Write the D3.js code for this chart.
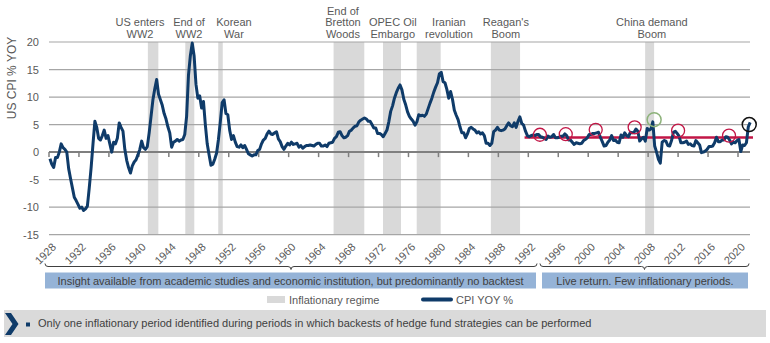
<!DOCTYPE html>
<html lang="en">
<head>
  <meta charset="utf-8">
  <script src="https://d3js.org/d3.v7.min.js"></script>
  <style>
    body, html {
      margin: 0;
      padding: 0;
      background: #fff;
    }
    svg text {
      font-family: "Liberation Sans", Arial, sans-serif;
    }
  </style>
</head>
<body>
<svg id="chart" width="770" height="343"></svg>

<script>
  // US CPI, year on year %, one value per quarter starting 1928 Q1
  var cpiStartYear = 1928;
  var cpiQuarterly = [
    -1.2, -2.2, -2.8, -1.0,   // 1928
    -1.0, 0.0, 1.5, 0.8,      // 1929
    0.5, 0.0, -3.0, -4.8,     // 1930
    -6.5, -8.2, -8.8, -9.5,   // 1931
    -10.2, -10.0, -10.6, -10.3, // 1932
    -9.8, -6.5, -2.8, 1.5,    // 1933
    5.6, 4.5, 2.5, 2.2,       // 1934
    3.0, 4.0, 2.5, 3.0,       // 1935
    1.5, 0.0, 1.8, 1.5,       // 1936
    2.5, 5.3, 4.5, 3.8,       // 1937
    0.5, -1.5, -2.8, -3.8,    // 1938
    -2.5, -1.8, -1.4, -0.5,   // 1939
    0.5, 2.0, 0.8, 0.5,       // 1940
    1.0, 3.5, 6.5, 9.5,       // 1941
    11.5, 13.2, 10.5, 9.5,    // 1942
    8.5, 7.0, 6.0, 4.6,       // 1943
    3.5, 0.9, 1.8, 2.0,       // 1944
    2.3, 2.0, 2.2, 2.3,       // 1945
    3.2, 6.5, 14.0, 17.5,     // 1946
    19.8, 17.5, 12.3, 9.8,    // 1947
    10.2, 8.0, 9.2, 5.0,      // 1948
    1.5, -0.5, -2.4, -2.2,    // 1949
    -1.3, -0.2, 2.3, 5.5,     // 1950
    9.0, 9.5, 7.0, 6.8,       // 1951
    4.0, 2.3, 3.0, 1.8,       // 1952
    1.0, 0.9, 1.3, 0.8,       // 1953
    1.2, 0.5, -0.3, -0.5,     // 1954
    -0.7, -0.5, -0.5, 0.3,    // 1955
    0.5, 1.5, 2.2, 2.5,       // 1956
    3.3, 3.8, 3.3, 3.2,       // 1957
    3.5, 3.7, 2.4, 1.9,       // 1958
    1.0, 0.5, 1.1, 1.6,       // 1959
    1.3, 1.8, 1.4, 1.5,       // 1960
    1.6, 0.9, 1.2, 0.7,       // 1961
    1.0, 1.2, 1.2, 1.3,       // 1962
    1.2, 1.1, 1.4, 1.6,       // 1963
    1.6, 1.1, 1.1, 1.3,       // 1964
    1.0, 1.6, 1.7, 1.8,       // 1965
    2.5, 2.8, 3.6, 3.7,       // 1966
    3.0, 2.6, 2.7, 3.0,       // 1967
    3.8, 4.0, 4.4, 4.7,       // 1968
    4.8, 5.5, 5.8, 6.0,       // 1969
    6.2, 6.0, 5.6, 5.6,       // 1970
    5.0, 4.4, 4.4, 3.4,       // 1971
    3.4, 3.2, 2.8, 3.4,       // 1972
    4.0, 5.5, 7.4, 8.4,       // 1973
    9.8, 10.8, 11.6, 12.2,    // 1974
    11.3, 9.6, 8.6, 7.3,      // 1975
    6.5, 6.0, 5.6, 4.9,       // 1976
    5.5, 6.8, 6.6, 6.7,       // 1977
    6.5, 6.9, 7.9, 8.9,       // 1978
    9.8, 10.9, 11.8, 12.6,    // 1979
    14.2, 14.5, 12.8, 12.6,   // 1980
    11.4, 9.8, 11.0, 9.6,     // 1981
    7.6, 6.7, 5.9, 4.6,       // 1982
    3.5, 3.5, 2.6, 3.3,       // 1983
    4.3, 4.5, 4.2, 4.0,       // 1984
    3.5, 3.7, 3.3, 3.5,       // 1985
    3.0, 1.6, 1.6, 1.2,       // 1986
    1.6, 3.7, 4.0, 4.5,       // 1987
    4.0, 3.9, 4.0, 4.2,       // 1988
    4.8, 5.3, 4.8, 4.6,       // 1989
    5.3, 4.5, 5.6, 6.4,       // 1990
    5.2, 4.9, 3.8, 3.0,       // 1991
    2.8, 3.0, 3.1, 3.0,       // 1992
    3.2, 3.2, 2.8, 2.7,       // 1993
    2.5, 2.3, 2.9, 2.7,       // 1994
    2.8, 3.2, 2.6, 2.6,       // 1995
    2.7, 2.9, 2.9, 3.3,       // 1996
    3.0, 2.2, 2.2, 1.8,       // 1997
    1.4, 1.7, 1.6, 1.5,       // 1998
    1.6, 2.1, 2.3, 2.6,       // 1999
    3.2, 3.2, 3.4, 3.4,       // 2000
    3.5, 3.6, 2.7, 1.9,       // 2001
    1.1, 1.2, 1.8, 2.2,       // 2002
    3.0, 2.1, 2.2, 1.8,       // 2003
    1.7, 3.1, 2.7, 3.5,       // 2004
    3.0, 2.8, 3.6, 3.5,       // 2005
    3.6, 4.2, 3.8, 2.0,       // 2006
    2.4, 2.7, 2.0, 4.3,       // 2007
    4.0, 4.2, 5.5, 1.1,       // 2008
    0.0, -1.3, -2.0, 1.8,     // 2009
    2.1, 2.0, 1.2, 1.1,       // 2010
    2.1, 3.6, 3.8, 3.4,       // 2011
    2.9, 1.7, 1.7, 1.8,       // 2012
    2.0, 1.4, 1.5, 1.2,       // 2013
    1.1, 2.1, 1.7, 1.3,       // 2014
    -0.1, 0.0, 0.2, 0.5,      // 2015
    1.0, 1.0, 1.1, 1.7,       // 2016
    2.7, 1.9, 1.9, 2.2,       // 2017
    2.2, 2.8, 2.7, 2.2,       // 2018
    1.5, 1.8, 1.7, 2.1,       // 2019
    2.3, 0.1, 1.3, 1.2,       // 2020
    1.7, 4.6, 5.4             // 2021
  ];

  // inflationary regimes (start year, end year)
  var regimeStart = [1941.2, 1946.2, 1950.6, 1966.0, 1972.6, 1977.1, 1987.0, 2007.6];
  var regimeEnd   = [1942.6, 1947.4, 1951.2, 1970.1, 1975.0, 1980.3, 1990.9, 2008.8];
  var regimeLabels = [
    ["US enters", "WW2"],
    ["End of", "WW2"],
    ["Korean", "War"],
    ["End of", "Bretton", "Woods"],
    ["OPEC Oil", "Embargo"],
    ["Iranian", "revolution"],
    ["Reagan's", "Boom"],
    ["China demand", "Boom"]
  ];
  var regimeLabelYear = [1940.15, 1946.7, 1952.7, 1967.25, 1973.9, 1981.4, 1989.0, 2008.5];

  // average inflation over the live period
  var liveAvgCpi = 2.65;
  var liveAvgFrom = 1991.5, liveAvgTo = 2022.0;

  // highlighted episodes
  var redCircleYear  = [1993.55, 1997.0, 2001.0, 2006.2, 2012.0, 2018.8];
  var redCircleValue = [3.15, 3.25, 4.05, 4.5, 3.9, 3.0];
  var greenCircle = [2008.8, 5.9];
  var blackCircle = [2021.5, 5.0];

  var yTicks = [20, 15, 10, 5, 0, -5, -10, -15];
  var xTickYears = d3.range(1928, 2021, 4);

  var periodLabels = [
    "Insight available from academic studies and economic institution, but predominantly no backtest",
    "Live return. Few inflationary periods."
  ];
  var footNote = "Only one inflationary period identified during periods in which backests of hedge fund strategies can be performed";

  var navy = "#0f3b69",
      crimson = "#c21646",
      bandGrey = "#d9d9d9",
      textGrey = "#595959";

  var svg = d3.select("#chart");

  var x = d3.scaleLinear().domain([1928, 2020]).range([49, 738]);
  var y = d3.scaleLinear().domain([-15, 20]).range([234.7, 42]);
  var gridRight = 750;

  // shaded regimes
  svg.append("g").selectAll("rect")
    .data(regimeStart)
    .enter().append("rect")
    .attr("x", function(d) { return x(d); })
    .attr("width", function(d, i) { return x(regimeEnd[i]) - x(d); })
    .attr("y", y(20))
    .attr("height", y(-15) - y(20))
    .attr("fill", bandGrey);

  // grid lines
  svg.append("g").selectAll("line")
    .data(yTicks.filter(function(d) { return d !== 0; }))
    .enter().append("line")
    .attr("x1", x(1928)).attr("x2", gridRight)
    .attr("y1", function(d) { return y(d); })
    .attr("y2", function(d) { return y(d); })
    .attr("stroke", "#a6a6a6")
    .attr("stroke-width", 1.2);

  // y labels
  svg.append("g").selectAll("text")
    .data(yTicks)
    .enter().append("text")
    .attr("x", 39)
    .attr("y", function(d) { return y(d) + 4; })
    .attr("text-anchor", "end")
    .attr("font-size", 11)
    .attr("fill", textGrey)
    .text(function(d) { return d; });

  svg.append("text")
    .attr("transform", "translate(16,78) rotate(-90)")
    .attr("text-anchor", "middle")
    .attr("font-size", 12)
    .attr("fill", textGrey)
    .text("US CPI % YOY");

  // zero axis with ticks
  var axis = svg.append("g");
  axis.append("line")
    .attr("x1", x(1928)).attr("x2", gridRight)
    .attr("y1", y(0)).attr("y2", y(0))
    .attr("stroke", "#7f7f7f")
    .attr("stroke-width", 2);
  axis.selectAll(".tick")
    .data(xTickYears)
    .enter().append("line")
    .attr("x1", function(d) { return x(d); })
    .attr("x2", function(d) { return x(d); })
    .attr("y1", y(0)).attr("y2", y(0) + 5)
    .attr("stroke", "#7f7f7f")
    .attr("stroke-width", 1.5);

  // year labels
  svg.append("g").selectAll("text")
    .data(xTickYears)
    .enter().append("text")
    .attr("transform", function(d) { return "translate(" + (x(d) + 5) + ",245) rotate(-45)"; })
    .attr("text-anchor", "end")
    .attr("dy", "0.35em")
    .attr("font-size", 11)
    .attr("fill", textGrey)
    .text(function(d) { return d; });

  // regime annotations
  svg.append("g").selectAll("text")
    .data(regimeLabels)
    .enter().append("text")
    .attr("text-anchor", "middle")
    .attr("font-size", 11)
    .attr("fill", textGrey)
    .each(function(lines, i) {
      var first = 37.5 - (lines.length - 1) * 11.2;
      lines.forEach(function(t, j) {
        d3.select(this).append("tspan")
          .attr("x", x(regimeLabelYear[i]))
          .attr("y", first + j * 11.2)
          .text(t);
      }, this);
    });

  // average line over live period
  svg.append("line")
    .attr("x1", x(liveAvgFrom)).attr("x2", x(liveAvgTo))
    .attr("y1", y(liveAvgCpi)).attr("y2", y(liveAvgCpi))
    .attr("stroke", crimson)
    .attr("stroke-width", 2.5);

  // CPI line
  var cpiPoints = cpiQuarterly.map(function(v, i) {
    return { year: cpiStartYear + (i + 0.5) / 4, value: v };
  });

  var line = d3.line()
    .x(function(d) { return x(d.year); })
    .y(function(d) { return y(d.value); });

  svg.append("path")
    .datum(cpiPoints)
    .attr("d", line)
    .attr("fill", "none")
    .attr("stroke", navy)
    .attr("stroke-width", 3)
    .attr("stroke-linejoin", "round");

  // circled episodes
  svg.append("g").selectAll("circle")
    .data(redCircleYear)
    .enter().append("circle")
    .attr("cx", function(d) { return x(d); })
    .attr("cy", function(d, i) { return y(redCircleValue[i]); })
    .attr("r", 6.5)
    .attr("fill", "none")
    .attr("stroke", crimson)
    .attr("stroke-width", 1.3);

  svg.append("circle")
    .attr("cx", x(greenCircle[0])).attr("cy", y(greenCircle[1]))
    .attr("r", 7)
    .attr("fill", "none")
    .attr("stroke", "#8db27a")
    .attr("stroke-width", 1.5);

  svg.append("circle")
    .attr("cx", x(blackCircle[0])).attr("cy", y(blackCircle[1]))
    .attr("r", 7)
    .attr("fill", "none")
    .attr("stroke", "#111")
    .attr("stroke-width", 1.5);

  // period brackets
  function bracket(x0, x1, yy) {
    var mid = (x0 + x1) / 2;
    return "M" + x0 + "," + (yy - 3) + " Q" + x0 + "," + yy + " " + (x0 + 3) + "," + yy +
      " L" + (mid - 3) + "," + yy + " Q" + mid + "," + yy + " " + mid + "," + (yy + 3) +
      " Q" + mid + "," + yy + " " + (mid + 3) + "," + yy +
      " L" + (x1 - 3) + "," + yy + " Q" + x1 + "," + yy + " " + x1 + "," + (yy - 3);
  }
  var periods = [[45, 537], [540, 749]];
  svg.append("g").selectAll("path")
    .data(periods)
    .enter().append("path")
    .attr("d", function(d) { return bracket(d[0], d[1], 266.5); })
    .attr("fill", "none")
    .attr("stroke", "#404040")
    .attr("stroke-width", 1);

  var boxes = [[45, 536], [542, 748]];
  var boxG = svg.append("g").selectAll("g")
    .data(boxes)
    .enter().append("g");
  boxG.append("rect")
    .attr("x", function(d) { return d[0]; })
    .attr("y", 272.5)
    .attr("width", function(d) { return d[1] - d[0]; })
    .attr("height", 16)
    .attr("fill", "#95b3d7");
  boxG.append("text")
    .attr("x", function(d) { return (d[0] + d[1]) / 2; })
    .attr("y", 284.5)
    .attr("text-anchor", "middle")
    .attr("font-size", 11)
    .attr("fill", "#404040")
    .text(function(d, i) { return periodLabels[i]; });

  // legend
  var legend = svg.append("g");
  legend.append("rect")
    .attr("x", 267).attr("y", 296)
    .attr("width", 18).attr("height", 7)
    .attr("fill", bandGrey);
  legend.append("text")
    .attr("x", 289).attr("y", 303.5)
    .attr("font-size", 11)
    .attr("fill", textGrey)
    .text("Inflationary regime");
  legend.append("line")
    .attr("x1", 423).attr("x2", 451)
    .attr("y1", 299.5).attr("y2", 299.5)
    .attr("stroke", navy)
    .attr("stroke-width", 4)
    .attr("stroke-linecap", "round");
  legend.append("text")
    .attr("x", 456).attr("y", 303.5)
    .attr("font-size", 11)
    .attr("fill", textGrey)
    .text("CPI YOY %");

  // footnote bar
  var foot = svg.append("g");
  foot.append("rect")
    .attr("x", 4).attr("y", 310)
    .attr("width", 762).attr("height", 27)
    .attr("fill", "#dadada");
  foot.append("path")
    .attr("d", "M5,313 L11,313 L18.5,324 L11,335 L5,335 L12.5,324 Z")
    .attr("fill", navy);
  foot.append("rect")
    .attr("x", 26).attr("y", 322.5)
    .attr("width", 4).attr("height", 4)
    .attr("fill", navy);
  foot.append("text")
    .attr("x", 38).attr("y", 327)
    .attr("font-size", 11)
    .attr("fill", "#404040")
    .text(footNote);
</script>
</body>
</html>
